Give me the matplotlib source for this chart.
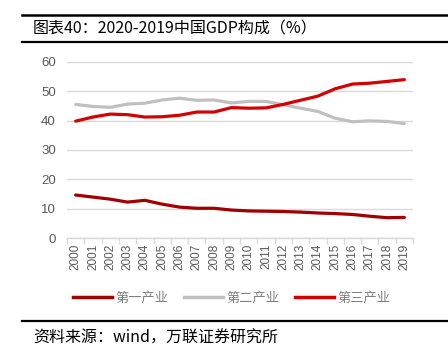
import matplotlib
matplotlib.use("Agg")
import matplotlib.pyplot as plt
from matplotlib.lines import Line2D
import numpy as np

plt.rcParams['font.family'] = ['Liberation Sans', 'Noto Sans CJK SC', 'DejaVu Sans']

years = [str(y) for y in range(2000, 2020)]
primary = [14.7, 14.0, 13.3, 12.3, 12.9, 11.6, 10.6, 10.2, 10.2, 9.6,
           9.3, 9.2, 9.1, 8.9, 8.6, 8.4, 8.1, 7.5, 7.0, 7.1]
secondary = [45.5, 44.8, 44.5, 45.6, 45.9, 47.0, 47.6, 46.9, 47.0, 46.0,
             46.5, 46.5, 45.4, 44.2, 43.1, 40.8, 39.6, 39.9, 39.7, 39.0]
tertiary = [39.8, 41.2, 42.2, 42.0, 41.2, 41.3, 41.8, 42.9, 42.9, 44.4,
            44.2, 44.3, 45.5, 46.9, 48.3, 50.8, 52.4, 52.7, 53.3, 53.9]
series_names = ['第一产业', '第二产业', '第三产业']
colors = ['#A00000', '#C0C0C0', '#D40000']
yticks = [0, 10, 20, 30, 40, 50, 60]

title = '图表40：2020-2019中国GDP构成（%）'
source = '资料来源：wind，万联证券研究所'

W, H = 448, 355
fig = plt.figure(figsize=(W / 100, H / 100), dpi=100)

ax = fig.add_axes([67 / W, 1 - 238.3 / H, (413 - 67) / W, (238.3 - 61.7) / H])
x = np.arange(len(years))
for vals, c in zip([primary, secondary, tertiary], colors):
    ax.plot(x, vals, color=c, lw=2.3, solid_capstyle='round', zorder=3)

ax.set_xlim(-0.5, len(years) - 0.5)
ax.set_ylim(0, 60)
ax.set_yticks(yticks)
ax.set_yticklabels([str(v) for v in yticks])
ax.grid(axis='y', color='#D9D9D9', lw=1)
ax.set_axisbelow(True)
for s in ['top', 'right', 'left']:
    ax.spines[s].set_visible(False)
ax.spines['bottom'].set_color('#D9D9D9')
ax.spines['bottom'].set_linewidth(1)
ax.tick_params(axis='y', length=0, labelsize=9.5, labelcolor='#595959', pad=8)
ax.set_xticks(x)
ax.set_xticklabels(years, rotation=90)
ax.tick_params(axis='x', which='major', length=0, labelsize=8.5, labelcolor='#595959', pad=4)
ax.set_xticks(np.arange(-0.5, len(years)), minor=True)
ax.tick_params(axis='x', which='minor', length=4, color='#D9D9D9', width=1)

# legend
handles = [Line2D([0], [0], color=c, lw=2.5) for c in colors]
leg = fig.legend(handles, series_names, loc='center', bbox_to_anchor=(232 / W, 1 - 298 / H),
                 ncol=3, frameon=False, handlelength=2.9, handletextpad=0.3, columnspacing=1.2,
                 prop={'family': ['Noto Sans CJK SC'], 'size': 9.5})
for t in leg.get_texts():
    t.set_color('#7F7F7F')

# title & rules
fig.add_artist(Line2D([22 / W, 1], [1 - 14.5 / H] * 2, color='black', lw=1.8))
fig.add_artist(Line2D([22 / W, 1], [1 - 42 / H] * 2, color='black', lw=1.6))
fig.text(33 / W, 1 - 28.5 / H, title, fontsize=11.5, va='center', ha='left',
         family=['Noto Sans CJK SC'], color='black')

fig.add_artist(Line2D([22 / W, 1], [1 - 320.5 / H] * 2, color='black', lw=1.6))
fig.text(33 / W, 1 - 338 / H, source, fontsize=11.5, va='center', ha='left',
         family=['Noto Sans CJK SC'], style='italic', color='black')

fig.savefig('out.png', dpi=100)
